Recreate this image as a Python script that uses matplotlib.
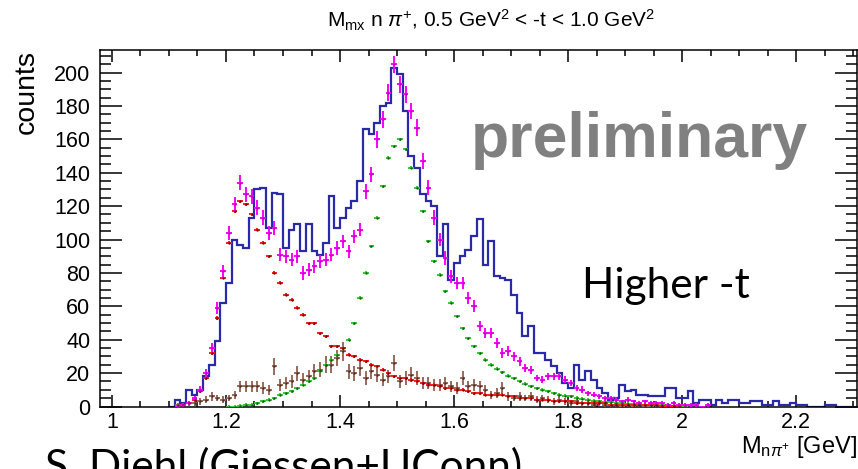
import numpy as np
import matplotlib
matplotlib.use("Agg")
import matplotlib.pyplot as plt
from matplotlib.ticker import MultipleLocator

plt.rcParams['font.family'] = ['Liberation Sans', 'DejaVu Sans']
plt.rcParams['mathtext.fontset'] = 'custom'
plt.rcParams['mathtext.rm'] = 'Liberation Sans'
plt.rcParams['mathtext.it'] = 'Liberation Sans:italic'

# histogram (blue), bins of 0.01 GeV starting at 1.10
hist_start = 1.10
bin_w = 0.01
blue = [0, 4, 2, 10, 7, 10, 18, 25, 39, 62,
        74, 100, 97, 95, 113, 130, 131, 107, 128, 127,
        95, 106, 109, 93, 109, 93, 91, 98, 126, 107,
        113, 119, 123, 135, 166, 163, 170, 180, 182, 203,
        199, 177, 150, 143, 127, 123, 120, 90, 109, 76,
        86, 90, 94, 102, 112, 85, 99, 78, 77, 76,
        67, 56, 42, 48, 32, 32, 28, 24, 20, 14,
        11, 25, 16, 21, 16, 11, 8, 4, 5, 13,
        9, 10, 7, 7, 6, 6, 6, 11, 11, 5,
        5, 9, 2, 4, 4, 1, 4, 2, 4, 4,
        2, 2, 3, 3, 1, 1, 3, 1, 1, 2,
        1, 1, 0, 0, 0, 1, 1, 0, 0, 0]

# data points (first bin centre given for each series)
magenta_start = 1.115
magenta = [0, 1, 2, 5, 10, 20, 35, 59, 81, 104,
           121, 134, 127, 126, 119, 113, 104, 107, 91, 90,
           88, 90, 80, 82, 84, 87, 88, 91, 95, 99,
           93, 102, 106, 129, 139, 160, 172, 188, 205, 193,
           187, 177, 167, 147, 131, 113, 100, 89, 78, 74,
           74, 65, 60, 48, 44, 44, 38, 32, 33, 30,
           27, 23, 22, 17, 16, 18, 18, 18, 16, 14,
           11, 10, 8, 7, 6, 5, 5, 4, 3, 4,
           3, 2, 3, 2, 2, 2, 1, 2, 1, 1,
           1, 1, 0, 1]
magenta_err = [0.5, 1, 1, 1.5, 2, 2.5, 3, 3.5, 4, 4,
               4.5, 4.5, 4.5, 4.5, 4.5, 4.5, 4, 4, 4, 4,
               4, 4, 4, 4, 4, 4, 4, 4, 4, 4,
               4, 4, 4, 4.5, 4.5, 5, 5, 5, 5, 5,
               5, 5, 5, 5, 4.5, 4.5, 4, 4, 4, 3.5,
               3.5, 3.5, 3.5, 3, 3, 3, 3, 3, 3, 2.5,
               2.5, 2.5, 2.5, 2, 2, 2, 2, 2, 2, 2,
               2, 2, 1.5, 1.5, 1.5, 1.5, 1.5, 1.5, 1, 1.5,
               1, 1, 1, 1, 1, 1, 1, 1, 1, 1,
               1, 1, 0.5, 1]

red_start = 1.115
red = [0, 1, 2, 4, 9, 17, 32, 53, 77, 98,
       117, 123, 121, 115, 106, 98, 90, 80, 74, 67,
       64, 59, 55, 50, 50, 44, 42, 36, 36, 35,
       31, 30, 28, 27, 25, 24, 22, 20, 18, 17,
       17, 16, 15, 14, 13, 13, 12, 11, 11, 10,
       10, 9, 8, 8, 7, 7, 7, 7, 6, 6,
       5, 5, 5, 4, 4, 4, 3, 3, 3, 3,
       2, 2, 2, 2, 2, 2, 1, 1, 1, 1,
       1, 1, 1, 1, 1, 0.5, 0.5, 0.5, 0.5]

green_start = 1.205
green = [0, 0, 0.5, 1, 1, 2, 3, 4, 5, 7,
         8, 9, 11, 13, 15, 17, 21, 25, 28, 31,
         35, 40, 50, 65, 80, 96, 113, 132, 149, 156,
         160, 154, 143, 131, 117, 99, 87, 79, 69, 62,
         54, 47, 41, 36, 32, 28, 25, 22.5, 20.5, 18.5,
         17, 15, 13.5, 12, 11, 10, 9, 8, 7, 6.5,
         6, 5.3, 4.6, 4, 3.5, 3.2, 2.8, 2.4, 2.1, 1.8,
         1.6, 1.4, 1.2, 1, 0.9, 0.8, 0.7, 0.6, 0.5, 0.4,
         0.3]

brown_start = 1.115
brown = [1, 1, 2, 2, 3, 4, 6, 5, 4, 5,
         7, 12, 12, 12, 12, 11, 10, 24, 13, 14,
         15, 20, 16, 18, 21, 22, 25, 25, 29, 33,
         21, 20, 23, 17, 21, 19, 16, 18, 26, 15,
         17, 19, 17, 14, 14, 13, 13, 14, 12, 11,
         17, 12, 13, 12, 10, 7, 8, 11, 6, 5,
         6, 5, 6, 4, 5, 4, 3, 4, 3, 2,
         3, 2, 2, 1, 2, 1, 1, 1, 0, 1,
         0, 1, 0, 0, 1, 0, 0, 0]
brown_err = [1, 1, 1.5, 1.5, 2, 2, 2.5, 2, 2, 2,
             2.5, 3.5, 3.5, 3.5, 3.5, 3.5, 3, 5, 3.5, 3.5,
             4, 4.5, 4, 4, 4.5, 4.5, 5, 5, 5, 5.5,
             4.5, 4.5, 5, 4, 4.5, 4.5, 4, 4, 5, 4,
             4, 4.5, 4, 3.5, 3.5, 3.5, 3.5, 3.5, 3.5, 3.5,
             4, 3.5, 3.5, 3.5, 3, 2.5, 3, 3.5, 2.5, 2,
             2.5, 2, 2.5, 2, 2, 2, 2, 2, 2, 1.5,
             2, 1.5, 1.5, 1, 1.5, 1, 1, 1, 0, 1,
             0, 1, 0, 0, 1, 0, 0, 0]


def centres(start, vals):
    return start + bin_w * np.arange(len(vals))


fig = plt.figure(figsize=(8.58, 4.69), dpi=100)
ax = fig.add_axes([100 / 858, (469 - 406.5) / 469, (856.5 - 100) / 858, (406.5 - 50) / 469])

edges = hist_start + bin_w * np.arange(len(blue) + 1)
ax.stairs(blue, edges, color='#2a2aa8', lw=1.6, zorder=2)

eb = dict(fmt='.', markersize=1.4, elinewidth=1.4, capsize=0, zorder=3)
ax.errorbar(centres(brown_start, brown), brown, xerr=bin_w / 2, yerr=brown_err,
            color='#9a6a5c', mfc='#4a2c20', mec='#4a2c20', **eb)
ax.errorbar(centres(green_start, green), green, xerr=bin_w / 2, yerr=0.9,
            color='#33cc33', mfc='#145a14', mec='#145a14', **eb)
ax.errorbar(centres(red_start, red), red, xerr=bin_w / 2, yerr=0.9,
            color='#ff1a1a', mfc='#7a0000', mec='#7a0000', **eb)
ax.errorbar(centres(magenta_start, magenta), magenta, xerr=bin_w / 2, yerr=magenta_err,
            color='#ff00ff', mfc='#c000c0', mec='#c000c0', **eb)

ax.set_xlim(0.979, 2.306)
ax.set_ylim(0, 213.5)

ax.xaxis.set_minor_locator(MultipleLocator(0.05))
ax.yaxis.set_minor_locator(MultipleLocator(5))
ax.set_xticks([1, 1.2, 1.4, 1.6, 1.8, 2, 2.2])
ax.set_xticklabels(['1', '1.2', '1.4', '1.6', '1.8', '2', '2.2'])
ax.set_yticks(range(0, 201, 20))

ax.tick_params(axis='both', which='both', direction='in', top=True, right=True,
               width=1.1, labelsize=15.5, colors='black')
ax.tick_params(axis='y', which='major', length=15.5, pad=7)
ax.tick_params(axis='y', which='minor', length=8)
ax.tick_params(axis='x', which='major', length=8.5, pad=4)
ax.tick_params(axis='x', which='minor', length=4.5)
for s in ax.spines.values():
    s.set_linewidth(1.1)

fig.text(491 / 858, (469 - 20) / 469,
         r"M$_{\mathrm{mx}}$ n $\pi^{+}$, 0.5 GeV$^{2}$ < -t < 1.0 GeV$^{2}$",
         ha='center', va='center', fontsize=15)
fig.text(857 / 858, (469 - 453) / 469, r"M$_{\mathrm{n}\pi^{+}}$ [GeV]",
         ha='right', va='baseline', fontsize=17)
fig.text(27 / 858, (469 - 50) / 469, "counts", rotation=90,
         ha='center', va='top', fontsize=20.5)

fig.text(639 / 858, (469 - 157) / 469, "preliminary", ha='center', va='baseline',
         fontsize=45, fontweight='bold', color='#808080')
fig.text(582 / 858, (469 - 298) / 469, "Higher -t", ha='left', va='baseline',
         fontsize=30.5, family=['Lato', 'DejaVu Sans'])
fig.text(45 / 858, (469 - 480) / 469, "S. Diehl (Giessen+UConn)", ha='left',
         va='baseline', fontsize=30.5, family=['Lato', 'DejaVu Sans'])

fig.savefig("out.png", dpi=100)
